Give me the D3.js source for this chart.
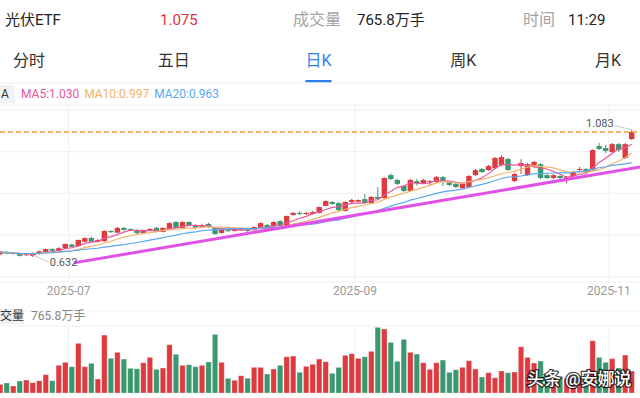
<!DOCTYPE html>
<html>
<head>
<meta charset="UTF-8">
<title>光伏ETF 日K</title>
<style>
  body{margin:0;background:#fff;}
  svg{display:block;font-family:Roboto,"Noto Sans CJK SC",sans-serif;}
  .grid line{stroke:#f0f0f0;stroke-width:1px;}
  .ma{fill:none;stroke-width:1.2px;}
  .trend{fill:none;stroke:#e052e6;stroke-width:3px;}
  .mark-label{font-size:11px;fill:#555;}
  .mark-line{stroke:#c8c8c8;stroke-width:1px;}
</style>
<script src="https://d3js.org/d3.v7.min.js"></script>
</head>
<body>
<svg width="640" height="398"></svg>
<script>
// header / labels
var stockName = "光伏ETF", lastPrice = "1.075", volumeText = "765.8万手", timeText = "11:29";
var tabs = ["分时", "五日", "日K", "周K", "月K"], activeTab = 2;
var maLegend = [["MA5", "1.030"], ["MA10", "0.997"], ["MA20", "0.963"]];
var dateTicks = [[11, "2025-07"], [55, "2025-09"], [94, "2025-11"]];

// daily candles
var opens = [0.642,0.650,0.643,0.646,0.638,0.636,0.643,0.650,0.660,0.654,
  0.663,0.676,0.670,0.686,0.699,0.686,0.688,0.724,0.718,0.735,
  0.731,0.727,0.717,0.728,0.735,0.721,0.728,0.756,0.735,0.756,
  0.745,0.738,0.749,0.735,0.717,0.727,0.724,0.728,0.731,0.727,
  0.735,0.745,0.742,0.759,0.742,0.781,0.788,0.784,0.785,0.788,
  0.813,0.827,0.823,0.795,0.827,0.828,0.837,0.823,0.845,0.841,
  0.922,0.905,0.884,0.866,0.901,0.894,0.898,0.898,0.915,0.898,
  0.891,0.876,0.880,0.922,0.944,0.940,0.947,0.958,0.979,0.901,
  0.954,0.922,0.951,0.961,0.922,0.912,0.919,0.908,0.919,0.940,
  0.944,0.940,1.025,1.018,1.004,1.032,0.983,1.050];
var highs = [0.653,0.652,0.649,0.648,0.645,0.648,0.654,0.662,0.663,0.666,
  0.680,0.679,0.694,0.702,0.703,0.695,0.727,0.727,0.739,0.738,
  0.734,0.732,0.727,0.735,0.738,0.737,0.755,0.759,0.758,0.759,
  0.748,0.750,0.753,0.738,0.734,0.731,0.737,0.734,0.736,0.740,
  0.755,0.749,0.759,0.762,0.779,0.792,0.795,0.792,0.795,0.811,
  0.833,0.830,0.826,0.829,0.838,0.836,0.855,0.848,0.880,0.914,
  0.928,0.909,0.887,0.908,0.908,0.909,0.905,0.919,0.919,0.901,
  0.894,0.894,0.922,0.944,0.947,0.958,0.986,0.993,0.983,0.929,
  0.979,0.965,0.972,0.965,0.926,0.926,0.922,0.919,0.937,0.951,
  0.947,1.014,1.036,1.029,1.036,1.036,1.036,1.083];
var lows = [0.639,0.641,0.640,0.634,0.635,0.632,0.640,0.648,0.651,0.651,
  0.661,0.665,0.668,0.683,0.683,0.683,0.686,0.717,0.716,0.725,
  0.724,0.713,0.715,0.725,0.719,0.719,0.726,0.733,0.733,0.740,
  0.732,0.735,0.735,0.711,0.715,0.720,0.722,0.725,0.721,0.725,
  0.733,0.735,0.740,0.739,0.740,0.778,0.780,0.781,0.782,0.786,
  0.811,0.817,0.795,0.793,0.823,0.825,0.820,0.821,0.835,0.838,
  0.905,0.887,0.862,0.862,0.885,0.891,0.884,0.895,0.884,0.884,
  0.877,0.873,0.877,0.919,0.930,0.937,0.944,0.954,0.937,0.898,
  0.926,0.919,0.947,0.908,0.908,0.908,0.908,0.894,0.915,0.937,
  0.930,0.937,1.011,1.000,1.000,1.004,0.979,1.046];
var closes = [0.650,0.644,0.646,0.636,0.642,0.645,0.652,0.660,0.654,0.663,
  0.678,0.668,0.692,0.699,0.686,0.692,0.724,0.720,0.735,0.728,
  0.728,0.717,0.724,0.731,0.721,0.735,0.752,0.735,0.756,0.742,
  0.735,0.745,0.738,0.713,0.731,0.724,0.735,0.731,0.724,0.738,
  0.752,0.738,0.756,0.742,0.777,0.788,0.784,0.788,0.791,0.809,
  0.830,0.820,0.798,0.827,0.834,0.834,0.823,0.845,0.838,0.912,
  0.908,0.891,0.866,0.905,0.894,0.905,0.901,0.915,0.898,0.887,
  0.880,0.891,0.919,0.940,0.933,0.954,0.983,0.986,0.940,0.926,
  0.965,0.961,0.969,0.912,0.912,0.922,0.912,0.915,0.933,0.944,
  0.933,1.011,1.015,1.008,1.032,1.011,1.032,1.075];
// volume, 万手
var volumes = [303,348,244,418,452,358,428,637,428,964,
  1068,915,1730,915,1034,487,2018,1208,1416,1183,
  860,846,1054,1242,825,870,1681,1347,964,985,
  915,964,1079,2043,1068,512,442,602,512,894,
  894,661,835,964,1263,1288,720,929,999,1183,
  1089,686,894,1312,1368,1208,1263,1451,2286,2227,
  1764,1103,1869,1416,1357,1054,825,1054,1148,720,
  811,894,1124,835,557,706,532,766,706,731,
  1611,1242,1044,1114,661,546,546,512,567,557,
  522,1820,1242,1068,1194,870,1322,765.8];
// hand-drawn trend line (candle index, price)
var trendIdx = [11.3, 98.3], trendVal = [0.611, 0.951];

var up = "#dd3b40", down = "#3a9870";
var maColors = ["#e8579c", "#f4b368", "#5aa8f2"], maDays = [5, 10, 20];

var svg = d3.select("svg"), W = 640;
var n = closes.length;

var x = d3.scaleLinear().domain([0, n - 1]).range([0.2, 631.7]);
var y = d3.scaleLinear().domain([0.562, 1.153]).range([276.7, 110]);
var yv = d3.scaleLinear().domain([0, 2300]).range([393, 327]);
var bw = 5.4;

// ---- header ----
var head = svg.append("g").attr("font-size", 15);
head.append("text").attr("x", 5).attr("y", 25).attr("fill", "#222").text(stockName);
head.append("text").attr("x", 160).attr("y", 25).attr("fill", "#e03236").text(lastPrice);
head.append("text").attr("x", 293).attr("y", 25).attr("fill", "#a3a3a3").attr("font-size", 16).text("成交量");
head.append("text").attr("x", 357).attr("y", 25).attr("fill", "#222").text(volumeText);
head.append("text").attr("x", 523).attr("y", 25).attr("fill", "#a3a3a3").attr("font-size", 16).text("时间");
head.append("text").attr("x", 568).attr("y", 25).attr("fill", "#222").text(timeText);

var tabX = d3.scalePoint().domain(d3.range(tabs.length)).range([29, 608]);
svg.append("g").selectAll("text").data(tabs).join("text")
  .attr("x", function(d, i) { return tabX(i); })
  .attr("y", 66)
  .attr("text-anchor", "middle")
  .attr("font-size", 16)
  .attr("fill", function(d, i) { return i === activeTab ? "#2d7ff0" : "#333"; })
  .text(function(d) { return d; });
svg.append("rect").attr("x", tabX(activeTab) - 13).attr("y", 80).attr("width", 26).attr("height", 2.5).attr("fill", "#2d7ff0");
svg.append("line").attr("x1", 0).attr("x2", W).attr("y1", 83).attr("y2", 83).attr("stroke", "#f0f0f0");

// ---- legend ----
svg.append("rect").attr("x", 0).attr("y", 85).attr("width", 15).attr("height", 18).attr("fill", "#f2f2f2");
svg.append("text").attr("x", 1).attr("y", 98).attr("font-size", 12).attr("fill", "#333").text("A");
var leg = svg.append("text").attr("x", 21).attr("y", 98).attr("font-size", 12);
maLegend.forEach(function(m, i) {
  leg.append("tspan").attr("fill", maColors[i]).attr("dx", i ? 5 : 0).text(m[0] + ":" + m[1]);
});

// ---- grid ----
var grid = svg.append("g").attr("class", "grid");
grid.selectAll(".h").data(d3.range(5)).join("line").attr("class", "h")
  .attr("x1", 0).attr("x2", W)
  .attr("y1", function(i) { var d = y.domain(); return y(d[0] + (d[1] - d[0]) * i / 4); })
  .attr("y2", function(i) { var d = y.domain(); return y(d[0] + (d[1] - d[0]) * i / 4); });
grid.append("line").attr("x1", 0).attr("x2", W).attr("y1", 105).attr("y2", 105);
grid.append("line").attr("x1", 0).attr("x2", W).attr("y1", 282).attr("y2", 282);
grid.append("line").attr("x1", 0).attr("x2", W).attr("y1", 311).attr("y2", 311);
grid.append("line").attr("x1", 0).attr("x2", W).attr("y1", 326).attr("y2", 326);
grid.selectAll(".v").data(dateTicks).join("line").attr("class", "v")
  .attr("x1", function(d) { return x(d[0] - 0.5); }).attr("x2", function(d) { return x(d[0] - 0.5); })
  .attr("y1", 105).attr("y2", 282);
grid.selectAll(".vv").data(dateTicks).join("line").attr("class", "vv")
  .attr("x1", function(d) { return x(d[0] - 0.5); }).attr("x2", function(d) { return x(d[0] - 0.5); })
  .attr("y1", 326).attr("y2", 393);

svg.append("g").selectAll("text").data(dateTicks).join("text")
  .attr("x", function(d) { return x(d[0] - 0.5); })
  .attr("y", 295)
  .attr("text-anchor", "middle")
  .attr("font-size", 12)
  .attr("fill", "#9a9a9a")
  .text(function(d) { return d[1]; });

// ---- candles ----
var idx = d3.range(n);
var colorOf = function(i) { return closes[i] >= opens[i] ? up : down; };
var cg = svg.append("g");
cg.selectAll("line").data(idx).join("line")
  .attr("x1", function(i) { return x(i); }).attr("x2", function(i) { return x(i); })
  .attr("y1", function(i) { return y(highs[i]); }).attr("y2", function(i) { return y(lows[i]); })
  .attr("stroke", colorOf).attr("stroke-width", 1);
cg.selectAll("rect").data(idx).join("rect")
  .attr("x", function(i) { return x(i) - bw / 2; })
  .attr("width", bw)
  .attr("y", function(i) { return y(Math.max(opens[i], closes[i])); })
  .attr("height", function(i) { return Math.max(1, Math.abs(y(opens[i]) - y(closes[i]))); })
  .attr("fill", colorOf);

// ---- moving averages ----
function movingAvg(days) {
  return closes.map(function(c, i) { return d3.mean(closes.slice(Math.max(0, i - days + 1), i + 1)); });
}
var line = d3.line().x(function(d, i) { return x(i); }).y(function(d) { return y(d); });
maDays.forEach(function(dd, k) {
  svg.append("path").datum(movingAvg(dd)).attr("class", "ma").attr("stroke", maColors[k]).attr("d", line);
});

// current price line
svg.append("line").attr("x1", 0).attr("x2", W)
  .attr("y1", y(closes[n - 1])).attr("y2", y(closes[n - 1]))
  .attr("stroke", "#f29a45").attr("stroke-width", 1.5).attr("stroke-dasharray", "5,3");

// trend line
svg.append("path").attr("class", "trend")
  .attr("d", d3.line().x(function(d) { return x(d[0]); }).y(function(d) { return y(d[1]); })(d3.zip(trendIdx, trendVal)));

// high / low markers
var hi = d3.maxIndex(highs), lo = d3.minIndex(lows);
svg.append("line").attr("class", "mark-line")
  .attr("x1", x(hi)).attr("y1", y(highs[hi])).attr("x2", x(hi) - 17).attr("y2", y(highs[hi]) - 4);
svg.append("text").attr("class", "mark-label").attr("text-anchor", "end")
  .attr("x", x(hi) - 18).attr("y", y(highs[hi]) - 3).text(highs[hi].toFixed(3));
svg.append("line").attr("class", "mark-line")
  .attr("x1", x(lo)).attr("y1", y(lows[lo]) - 2).attr("x2", x(lo) + 16).attr("y2", y(lows[lo]) + 5);
svg.append("text").attr("class", "mark-label")
  .attr("x", x(lo) + 17).attr("y", y(lows[lo]) + 9.5).text(lows[lo].toFixed(3));

// ---- volume ----
svg.append("rect").attr("x", 0).attr("y", 309).attr("width", 24).attr("height", 15).attr("fill", "#f0f0f0");
svg.append("text").attr("x", 0).attr("y", 320).attr("font-size", 12).attr("fill", "#333").text("交量");
svg.append("text").attr("x", 31).attr("y", 320).attr("font-size", 12).attr("fill", "#888").text(volumeText);

svg.append("g").selectAll("rect").data(idx).join("rect")
  .attr("x", function(i) { return x(i) - bw / 2; })
  .attr("width", bw)
  .attr("y", function(i) { return yv(volumes[i]); })
  .attr("height", function(i) { return yv(0) - yv(volumes[i]); })
  .attr("fill", colorOf)
  .attr("stroke", "#fff").attr("stroke-opacity", 0.35).attr("stroke-width", 0.8);

// watermark
svg.append("text").attr("x", 527).attr("y", 385)
  .attr("font-size", 17).attr("font-weight", 500).attr("fill", "#fff")
  .attr("stroke", "rgba(0,0,0,0.75)").attr("stroke-width", 2.5).attr("paint-order", "stroke")
  .text("头条 @安娜说");
</script>
</body>
</html>
